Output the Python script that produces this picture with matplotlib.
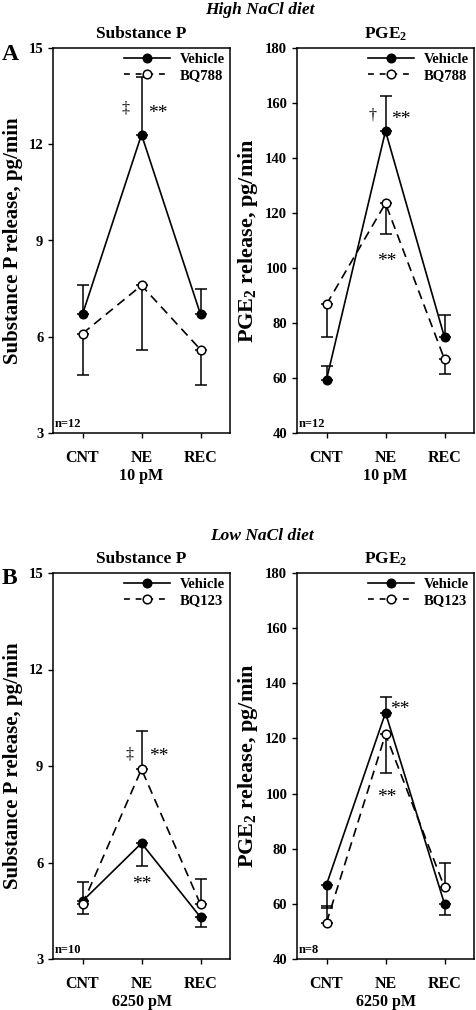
import matplotlib
matplotlib.use("Agg")
import matplotlib.pyplot as plt
from matplotlib.lines import Line2D

plt.rcParams['font.family'] = ['Liberation Serif', 'DejaVu Serif']
plt.rcParams['font.weight'] = 'bold'
plt.rcParams['mathtext.fontset'] = 'custom'
plt.rcParams['mathtext.rm'] = 'Liberation Serif:bold'
plt.rcParams['mathtext.bf'] = 'Liberation Serif:bold'
plt.rcParams['mathtext.default'] = 'rm'

categories = ["CNT", "NE", "REC"]

# ---- Panel A: High NaCl diet (BQ788) ----
A_sp_vehicle = [6.7, 12.3, 6.7]
A_sp_vehicle_lo = [0.0, 0.0, 0.0]
A_sp_vehicle_hi = [0.9, 1.8, 0.8]
A_sp_bq = [6.1, 7.6, 5.6]
A_sp_bq_lo = [1.3, 2.0, 1.1]
A_sp_bq_hi = [0.0, 0.0, 0.0]

A_pge_vehicle = [59.4, 149.8, 74.8]
A_pge_vehicle_lo = [0.0, 0.0, 0.0]
A_pge_vehicle_hi = [5.1, 12.6, 8.0]
A_pge_bq = [86.8, 123.5, 66.8]
A_pge_bq_lo = [11.9, 11.3, 5.4]
A_pge_bq_hi = [0.0, 0.0, 0.0]

# ---- Panel B: Low NaCl diet (BQ123) ----
B_sp_vehicle = [4.8, 6.6, 4.3]
B_sp_vehicle_lo = [0.0, 0.7, 0.3]
B_sp_vehicle_hi = [0.6, 0.0, 0.0]
B_sp_bq = [4.7, 8.9, 4.7]
B_sp_bq_lo = [0.3, 0.0, 0.0]
B_sp_bq_hi = [0.0, 1.2, 0.8]

B_pge_vehicle = [67.0, 129.3, 60.0]
B_pge_vehicle_lo = [8.5, 0.0, 4.0]
B_pge_vehicle_hi = [0.0, 5.7, 0.0]
B_pge_bq = [53.2, 121.5, 66.0]
B_pge_bq_lo = [0.0, 14.2, 0.0]
B_pge_bq_hi = [6.0, 0.0, 9.0]

# significance annotations: (x position, y value, text)
A_sp_marks = [(0.73, 13.1, "‡"), (1.27, 12.95, "**")]
A_pge_marks = [(0.78, 155.5, "†"), (1.26, 154.0, "**")]
A_pge_marks2 = [(1.03, 102.3, "**")]
B_sp_marks = [(0.8, 9.35, "‡"), (1.3, 9.3, "**")]
B_sp_marks2 = [(1.0, 5.33, "**")]
B_pge_marks = [(1.25, 130.5, "**")]
B_pge_marks2 = [(1.02, 98.5, "**")]

W, H = 476, 1010
fig = plt.figure(figsize=(W / 100, H / 100), dpi=100)


def px_axes(left, top, right, bottom):
    return fig.add_axes([left / W, 1 - bottom / H, (right - left) / W, (bottom - top) / H])


def draw_panel(ax, veh, veh_lo, veh_hi, bq, bq_lo, bq_hi, bq_name, ylim, yticks,
               ylabel, ylabel_size, title, xlabel, ntext, marks):
    x = list(range(len(categories)))
    eb_kw = dict(fmt='none', ecolor='black', elinewidth=1.1, capsize=4.5, capthick=1.1, zorder=2)
    ax.errorbar(x, veh, yerr=[veh_lo, veh_hi], **eb_kw)
    ax.errorbar(x, bq, yerr=[bq_lo, bq_hi], **eb_kw)
    ax.plot(x, veh, color='black', lw=1.2, marker='o', ms=6.2, mfc='black', mec='black', zorder=3)
    ax.plot(x, bq, color='black', lw=1.2, ls=(0, (5.5, 3.5)), marker='o', ms=6.2, mfc='white',
            mec='black', mew=1.1, zorder=3)
    h1 = Line2D([], [], color='black', lw=1.2, marker='o', ms=6.2, mfc='black', mec='black')
    h2 = Line2D([], [], color='black', lw=1.2, ls=(0, (3.5, 3.5)), marker='o', ms=6.2, mfc='white',
                mec='black', mew=1.1)
    ax.legend([h1, h2], ["Vehicle", bq_name], loc='upper right', frameon=False,
              prop={'family': 'Liberation Serif', 'weight': 'bold', 'size': 10.5},
              handlelength=3.1, handletextpad=0.7, labelspacing=0.15,
              borderaxespad=0.0, borderpad=0.35)
    ax.set_xlim(-0.5, 2.5)
    ax.set_ylim(*ylim)
    ax.set_yticks(yticks)
    ax.set_xticks(x)
    ax.set_xticklabels(categories)
    ax.tick_params(axis='both', direction='out', length=3.5, width=1.0, labelsize=10.5)
    ax.tick_params(axis='x', labelsize=11.5, pad=9)
    for lab in ax.get_xticklabels() + ax.get_yticklabels():
        lab.set_fontweight('bold')
    for sp in ax.spines.values():
        sp.set_linewidth(1.1)
    ax.set_ylabel(ylabel, fontsize=ylabel_size, fontweight='bold', labelpad=4)
    ax.set_xlabel(xlabel, fontsize=11.5, fontweight='bold', labelpad=1)
    ax.set_title(title, fontsize=12.5, fontweight='bold', pad=7)
    ax.text(0.012, 0.008, ntext, transform=ax.transAxes, fontsize=9, fontweight='bold',
            ha='left', va='bottom')
    for (mx, my, mt) in marks:
        fs = 14 if mt == "**" else 11.5
        ax.text(mx, my, mt, ha='center', va='center', fontsize=fs, fontweight='normal')


axA1 = px_axes(53, 48, 230, 433)
axA2 = px_axes(297, 48, 474, 433)
axB1 = px_axes(53, 573, 230, 959)
axB2 = px_axes(297, 573, 474, 959)

draw_panel(axA1, A_sp_vehicle, A_sp_vehicle_lo, A_sp_vehicle_hi, A_sp_bq, A_sp_bq_lo, A_sp_bq_hi,
           "BQ788", (3, 15), [3, 6, 9, 12, 15], "Substance P release, pg/min", 15, "Substance P",
           "10 pM", "n=12", A_sp_marks)
draw_panel(axA2, A_pge_vehicle, A_pge_vehicle_lo, A_pge_vehicle_hi, A_pge_bq, A_pge_bq_lo, A_pge_bq_hi,
           "BQ788", (40, 180), [40, 60, 80, 100, 120, 140, 160, 180], "PGE$_2$ release, pg/min", 16,
           "PGE$_2$", "10 pM", "n=12", A_pge_marks + A_pge_marks2)
draw_panel(axB1, B_sp_vehicle, B_sp_vehicle_lo, B_sp_vehicle_hi, B_sp_bq, B_sp_bq_lo, B_sp_bq_hi,
           "BQ123", (3, 15), [3, 6, 9, 12, 15], "Substance P release, pg/min", 15, "Substance P",
           "6250 pM", "n=10", B_sp_marks + B_sp_marks2)
draw_panel(axB2, B_pge_vehicle, B_pge_vehicle_lo, B_pge_vehicle_hi, B_pge_bq, B_pge_bq_lo, B_pge_bq_hi,
           "BQ123", (40, 180), [40, 60, 80, 100, 120, 140, 160, 180], "PGE$_2$ release, pg/min", 16,
           "PGE$_2$", "6250 pM", "n=8", B_pge_marks + B_pge_marks2)

fig.text(260 / W, 1 - 10 / H, "High NaCl diet", ha='center', va='center', fontsize=12.5,
         fontweight='bold', fontstyle='italic')
fig.text(262 / W, 1 - 536 / H, "Low NaCl diet", ha='center', va='center', fontsize=12.5,
         fontweight='bold', fontstyle='italic')
fig.text(10 / W, 1 - 54 / H, "A", ha='center', va='center', fontsize=17, fontweight='bold')
fig.text(9 / W, 1 - 579 / H, "B", ha='center', va='center', fontsize=17, fontweight='bold')

fig.savefig("out.png", dpi=100)
